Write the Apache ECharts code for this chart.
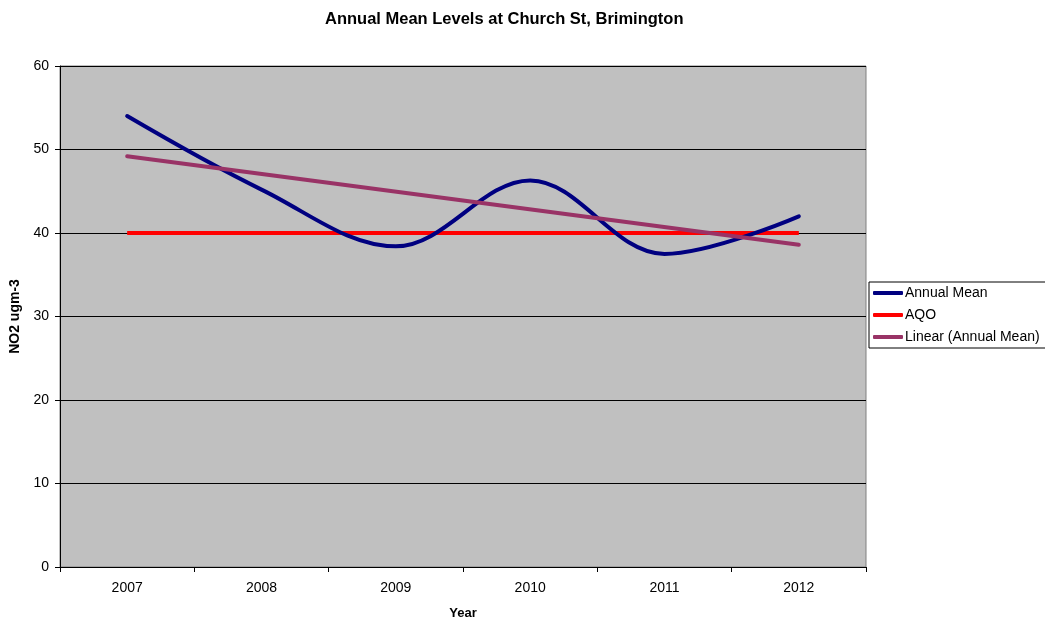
<!DOCTYPE html>
<html>
<head>
<meta charset="utf-8">
<script src="https://cdn.jsdelivr.net/npm/echarts@6/dist/echarts.min.js"></script>
<style>
  html, body { margin: 0; padding: 0; background: #fff; }
  #chart { width: 1045px; height: 618px; }
</style>
</head>
<body>
<div id="chart"></div>
<script>
// NO2 annual means at Church St, Brimington
const years = ['2007', '2008', '2009', '2010', '2011', '2012'];
const annualMean = [54, 45.2, 38.4, 46.3, 37.5, 42];
const aqo = [40, 40, 40, 40, 40, 40];
// Linear trend endpoints (first and last year)
const linearTrend = [49.2, null, null, null, null, 38.6];

const font = 'Arial, "Liberation Sans", sans-serif';

const chart = echarts.init(document.getElementById('chart'), null, { renderer: 'canvas' });
chart.setOption({
  animation: false,
  backgroundColor: '#ffffff',
  title: {
    text: 'Annual Mean Levels at Church St, Brimington',
    left: 320,
    top: 6,
    textStyle: { fontFamily: font, fontSize: 16.5, fontWeight: 'bold', color: '#000' }
  },
  grid: {
    left: 60, right: 179, top: 66, bottom: 51,
    outerBoundsMode: 'none',
    containLabel: false,
    show: true,
    backgroundColor: '#c0c0c0',
    borderColor: '#808080',
    borderWidth: 1
  },
  legend: {
    orient: 'vertical',
    left: 869,
    top: 282,
    backgroundColor: '#ffffff',
    borderColor: '#000000',
    borderWidth: 1,
    padding: [3, 40, 3, 4],
    itemGap: 6,
    itemWidth: 30,
    itemHeight: 4,
    icon: 'roundRect',
    textStyle: { fontFamily: font, fontSize: 14, lineHeight: 16, color: '#000', padding: [0, 0, 0, -3] },
    data: ['Annual Mean', 'AQO', 'Linear (Annual Mean)']
  },
  xAxis: {
    type: 'category',
    data: years,
    boundaryGap: true,
    name: 'Year',
    nameLocation: 'middle',
    nameGap: 40,
    nameTextStyle: { fontFamily: font, fontSize: 13, fontWeight: 'bold', color: '#000' },
    axisLine: { lineStyle: { color: '#000', width: 1 } },
    axisTick: { show: true, length: 5, interval: 0, lineStyle: { color: '#000' } },
    axisLabel: { fontFamily: font, fontSize: 14, color: '#000', margin: 14 },
    splitLine: { show: false }
  },
  yAxis: {
    type: 'value',
    min: 0,
    max: 60,
    interval: 10,
    name: 'NO2 ugm-3',
    nameLocation: 'middle',
    nameGap: 31,
    nameTextStyle: { fontFamily: font, fontSize: 14, fontWeight: 'bold', color: '#000' },
    axisLine: { show: true, lineStyle: { color: '#000', width: 1 } },
    axisTick: { show: true, length: 5, lineStyle: { color: '#000' } },
    axisLabel: { fontFamily: font, fontSize: 14, color: '#000', margin: 11 },
    splitLine: { show: true, lineStyle: { color: '#000', width: 1 } }
  },
  series: [
    {
      name: 'Annual Mean',
      type: 'line',
      data: annualMean,
      smooth: 0.36,
      showSymbol: false,
      symbol: 'none',
      z: 3,
      lineStyle: { color: '#000080', width: 4, cap: 'round' },
      itemStyle: { color: '#000080' }
    },
    {
      name: 'AQO',
      type: 'line',
      data: aqo,
      showSymbol: false,
      symbol: 'none',
      z: 2,
      lineStyle: { color: '#ff0000', width: 4 },
      itemStyle: { color: '#ff0000' }
    },
    {
      name: 'Linear (Annual Mean)',
      type: 'line',
      data: linearTrend,
      connectNulls: true,
      showSymbol: false,
      symbol: 'none',
      z: 4,
      lineStyle: { color: '#993366', width: 4, cap: 'round' },
      itemStyle: { color: '#993366' }
    }
  ]
});
</script>
</body>
</html>
